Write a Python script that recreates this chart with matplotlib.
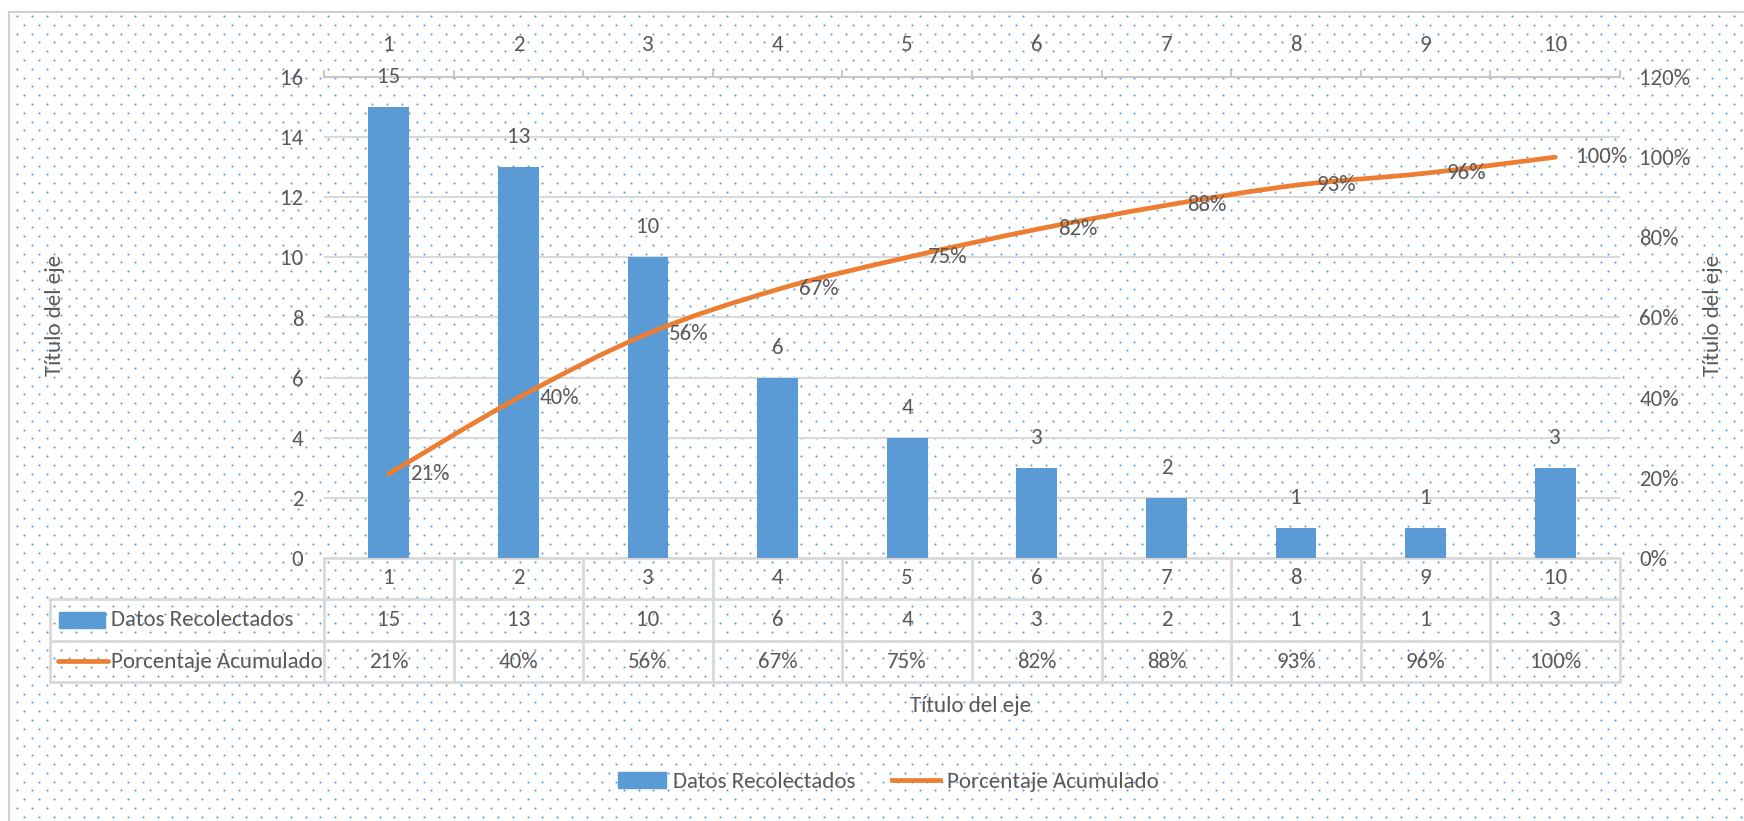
import numpy as np
import matplotlib
matplotlib.use("Agg")
import matplotlib.pyplot as plt
from matplotlib.path import Path
from matplotlib.patches import PathPatch, Rectangle, Patch
from matplotlib.lines import Line2D
from matplotlib.ticker import PercentFormatter

# Datos
categorias = [1, 2, 3, 4, 5, 6, 7, 8, 9, 10]
datos = [15, 13, 10, 6, 4, 3, 2, 1, 1, 3]
porcentaje = [21, 40, 56, 67, 75, 82, 88, 93, 96, 100]
serie_barras = "Datos Recolectados"
serie_linea = "Porcentaje Acumulado"
titulo_eje = "Título del eje"

AZUL = "#5B9BD5"
NARANJA = "#ED7D31"
GRIS = "#595959"
GRID = "#D9D9D9"
FAM = ["Carlito", "DejaVu Sans"]
FS = 16.5

plt.rcParams["font.family"] = FAM
plt.rcParams["font.size"] = FS
plt.rcParams["text.color"] = GRIS
plt.rcParams["xtick.color"] = GRIS
plt.rcParams["ytick.color"] = GRIS

W, H = 1744, 821
fig = plt.figure(figsize=(W / 100, H / 100), dpi=100)

# fondo con puntos (pixel coords)
bg = fig.add_axes([0, 0, 1, 1], zorder=-10)
bg.set_xlim(0, W)
bg.set_ylim(H, 0)
bg.axis("off")
bg.add_patch(Rectangle((9, 12), W + 20, H + 20, facecolor="white",
                       edgecolor="#D0D0D0", lw=1.5))
dx, dy = 14.8, 8.8
px, py = [], []
for j, y in enumerate(np.arange(16, H, dy)):
    off = 0 if j % 2 == 0 else dx / 2
    for x in np.arange(17 + off, W, dx):
        px.append(x)
        py.append(y)
bg.scatter(px, py, s=2.2, color=AZUL, linewidths=0)

# area del grafico
L, R, T, B = 324, 1620, 77, 558
ax = fig.add_axes([L / W, 1 - B / H, (R - L) / W, (B - T) / H])
ax.set_facecolor("none")
x = np.array(categorias)
bars = ax.bar(x, datos, width=0.316, color=AZUL, zorder=3)
ax.set_xlim(0.5, 10.5)
ax.set_ylim(0, 16)
ax.set_yticks(np.arange(0, 17, 2))
ax.yaxis.grid(True, color=GRID, lw=1.5)
ax.set_axisbelow(True)
for s in ["left", "right", "bottom"]:
    ax.spines[s].set_visible(False)
ax.spines["top"].set_color("#C8C8C8")
ax.spines["top"].set_linewidth(1.5)
ax.xaxis.tick_top()
ax.set_xticks(x)
ax.set_xticklabels([str(c) for c in categorias])
ax.set_xticks(np.arange(0.5, 11, 1), minor=True)
ax.tick_params(axis="x", which="major", length=0, pad=16)
ax.tick_params(axis="x", which="minor", length=5, width=1.5, color="#C8C8C8",
               direction="out")
ax.tick_params(axis="y", length=0, pad=15)

for b, v in zip(bars, datos):
    ax.annotate(str(v), (b.get_x() + b.get_width() / 2, v), xytext=(0, 30),
                textcoords="offset pixels", ha="center", va="center")

ax2 = ax.twinx()
ax2.set_ylim(0, 1.2)
ax2.set_yticks(np.arange(0, 1.21, 0.2))
ax2.yaxis.set_major_formatter(PercentFormatter(xmax=1, decimals=0))
ax2.tick_params(axis="y", length=0, pad=14)
for s in ax2.spines.values():
    s.set_visible(False)

# linea suavizada (bezier)
P = np.column_stack([x, np.array(porcentaje) / 100.0])
n = len(P)
verts = [tuple(P[0])]
codes = [Path.MOVETO]
for i in range(n - 1):
    p0 = P[max(i - 1, 0)]
    p1 = P[i]
    p2 = P[i + 1]
    p3 = P[min(i + 2, n - 1)]
    c1 = p1 + (p2 - p0) / 6
    c2 = p2 - (p3 - p1) / 6
    verts += [tuple(c1), tuple(c2), tuple(p2)]
    codes += [Path.CURVE4] * 3
ax2.add_patch(PathPatch(Path(verts, codes), fill=False, edgecolor=NARANJA,
                        lw=3.4, capstyle="round", joinstyle="round", zorder=4))
for xi, p in zip(x, porcentaje):
    ax2.annotate(f"{p}%", (xi, p / 100), xytext=(21, 0),
                 textcoords="offset pixels", ha="left", va="center", zorder=5)

# titulos de ejes
fig.text(55 / W, 1 - 315 / H, titulo_eje, rotation=90, ha="center", va="center")
fig.text(1713 / W, 1 - 315 / H, titulo_eje, rotation=90, ha="center", va="center")
fig.text(971 / W, 1 - 706 / H, titulo_eje, ha="center", va="center")

# tabla de datos
cw = (R - L) / len(categorias)
rows = [558, 599, 641, 682]
LAB = 50
lk = dict(color=GRID, lw=2)
bg.plot([L, R], [rows[0], rows[0]], **lk)
for yy in rows[1:]:
    bg.plot([LAB, R], [yy, yy], **lk)
bg.plot([LAB, LAB], [rows[1], rows[3]], **lk)
for k in range(len(categorias) + 1):
    bg.plot([L + k * cw, L + k * cw], [rows[0], rows[3]], **lk)
for k, c in enumerate(categorias):
    cx = L + (k + 0.5) * cw
    bg.text(cx, (rows[0] + rows[1]) / 2, str(c), ha="center", va="center")
    bg.text(cx, (rows[1] + rows[2]) / 2, str(datos[k]), ha="center", va="center")
    bg.text(cx, (rows[2] + rows[3]) / 2, f"{porcentaje[k]}%", ha="center",
            va="center")
y2 = (rows[1] + rows[2]) / 2
y3 = (rows[2] + rows[3]) / 2
bg.add_patch(Rectangle((59, y2 - 8), 46, 16, color=AZUL))
bg.plot([58, 108], [y3, y3], color=NARANJA, lw=3.4, solid_capstyle="round")
bg.text(111, y2, serie_barras, ha="left", va="center")
bg.text(111, y3, serie_linea, ha="left", va="center")

# leyenda
handles = [Patch(color=AZUL, label=serie_barras),
           Line2D([], [], color=NARANJA, lw=3.4, label=serie_linea)]
fig.legend(handles=handles, loc="center", bbox_to_anchor=(888 / W, 1 - 782 / H),
           ncol=2, frameon=False, handlelength=2.1, handletextpad=0.3,
           columnspacing=1.6, fontsize=FS)

fig.savefig("out.png", dpi=100)
